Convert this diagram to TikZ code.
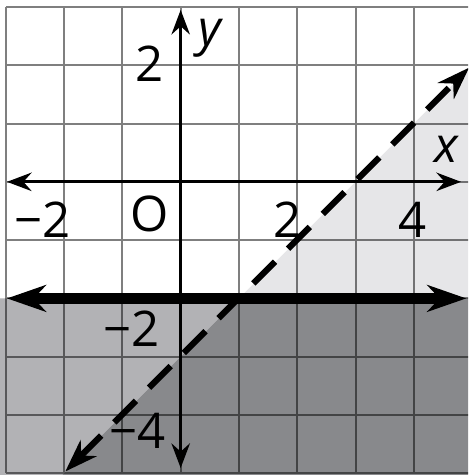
\documentclass[tikz,border=0pt]{standalone}
\usepackage{fontspec}
\setmainfont{Open Sans}
\usetikzlibrary{arrows.meta}
\definecolor{lightreg}{RGB}{230,230,232}
\definecolor{midreg}{RGB}{178,178,181}
\definecolor{darkreg}{RGB}{136,137,140}
\begin{document}
\begin{tikzpicture}[x=1cm,y=1cm,
  lab/.style={font=\fontsize{24}{28}\selectfont, inner sep=0pt, anchor=base},
  gridline/.style={draw=black, opacity=0.5, line width=1pt},
  axisline/.style={draw=black, line width=1.4pt, {Stealth[length=12pt,width=9pt,inset=4pt]}-{Stealth[length=12pt,width=9pt,inset=4pt]}},
  boundline/.style={draw=black, line width=5.5pt, {Stealth[length=19pt,width=13pt,inset=6pt]}-{Stealth[length=19pt,width=13pt,inset=6pt]}},
  dashline/.style={draw=black, line width=3pt, dash pattern=on 15pt off 9pt, {Stealth[length=16pt,width=11pt,inset=5pt]}-{Stealth[length=16pt,width=11pt,inset=5pt]}}]
\useasboundingbox (-3.1,-5.03) rectangle (4.93,3.12);
\clip (-3.1,-5.03) rectangle (4.93,3.12);
\fill[white] (-3.1,-5.03) rectangle (4.93,3.12);
% shaded regions
\fill[lightreg] (1,-2) -- (5.3,2.3) -- (5.3,-2) -- cycle;
\fill[midreg] (-3.3,-2) -- (1,-2) -- (-2.3,-5.3) -- (-3.3,-5.3) -- cycle;
\fill[darkreg] (1,-2) -- (5.3,-2) -- (5.3,-5.3) -- (-2.3,-5.3) -- cycle;
% grid
\draw[gridline] (-3,-5) grid (5,3);
% axes
\coordinate (xl) at (-2.98,0);
\coordinate (xr) at (4.81,0);
\coordinate (yb) at (0,-4.91);
\coordinate (yt) at (0,2.95);
\draw[axisline] (xl) -- (xr);
\draw[axisline] (yb) -- (yt);
% labels
\node[lab] (lx) at (4.56,0.34) {\itshape x};
\node[lab] (ly) at (0.5,2.34) {\itshape y};
\node[lab] (lym2) at (-0.53,1.72) {2};
\node[lab] (lxm2) at (-2.37,-0.95) {−2};
\node[lab] (lo) at (-0.53,-0.845) {O};
\node[lab] (lx2) at (1.83,-0.95) {2};
\node[lab] (lx4) at (3.97,-0.95) {4};
\node[lab] (lyn2) at (-0.84,-2.83) {−2};
\node[lab] (lyn4) at (-0.74,-4.57) {−4};
% boundary lines
\coordinate (bl) at (-2.98,-2);
\coordinate (br) at (4.9,-2);
\draw[boundline] (bl) -- (br);
\coordinate (dl) at (-1.98,-4.97);
\coordinate (dr) at (4.95,1.96);
\draw[dashline] (dl) -- (dr);
\end{tikzpicture}
\end{document}
